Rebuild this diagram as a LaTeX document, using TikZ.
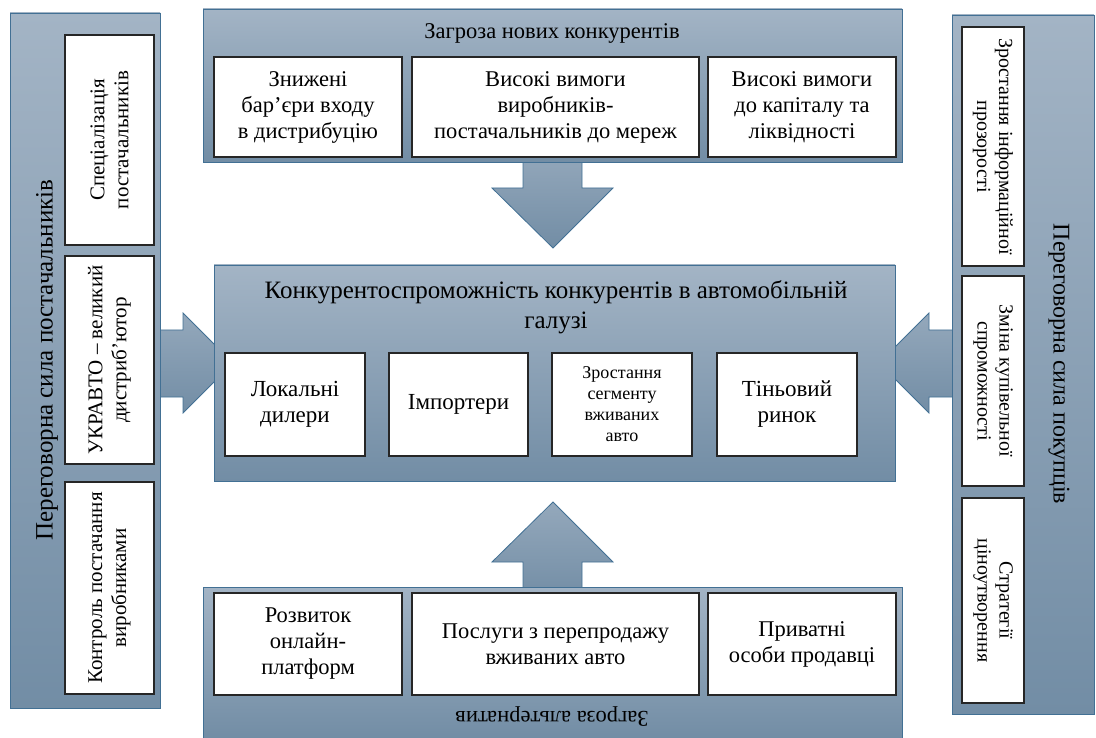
\documentclass[tikz,border=0pt]{standalone}
\usepackage{fontspec}
\setmainfont{Liberation Serif}
\definecolor{paneltop}{RGB}{163,180,197}
\definecolor{panelbot}{RGB}{114,141,165}
\definecolor{paneledge}{RGB}{66,112,148}

\begin{document}
\begin{tikzpicture}[x=1pt,y=-1pt,
		panel/.style={draw=paneledge,line width=0.8pt,top color=paneltop,bottom color=panelbot,inner sep=0pt},
		factor/.style={draw=black!85,line width=1.6pt,fill=white,align=center,inner sep=2pt},
		blockarrow/.style={draw=paneledge,line width=0.8pt,top color=paneltop!70!panelbot,bottom color=panelbot}]
		\useasboundingbox (0,0) rectangle (1096,738);
		\path[blockarrow] (150,330) -- (183,330) -- (183,313) -- (233,363) -- (183,413) -- (183,397) -- (150,397) -- cycle;
		\path[blockarrow] (962,330) -- (929,330) -- (929,313) -- (879,363) -- (929,413) -- (929,397) -- (962,397) -- cycle;
		\path[blockarrow] (523,150) -- (523,188) -- (492,188) -- (553,248) -- (613,188) -- (582,188) -- (582,150) -- cycle;
		\path[blockarrow] (523,600) -- (523,562) -- (492,562) -- (553,502) -- (613,562) -- (582,562) -- (582,600) -- cycle;
		\node[panel,minimum width=150,minimum height=695] (sup) at (85,360.5) {};
		\node[panel,minimum width=142,minimum height=699] (buy) at (1023,364.5) {};
		\node[panel,minimum width=699,minimum height=153] (newc) at (552.5,85.5) {};
		\node[panel,minimum width=699,minimum height=151] (alt) at (552.5,662.5) {};
		\node[panel,minimum width=681,minimum height=216] (core) at (554.5,373) {};
		\node (supT) [rotate=90,font=\fontsize{25}{30}\selectfont] at (47,360) {Переговорна сила постачальників};
		\node (buyT) [rotate=-90,font=\fontsize{24}{29}\selectfont] at (1059,364) {Переговорна сила покупців};
		\node (newcT) [font=\fontsize{22.5}{26}\selectfont] at (552,33) {Загроза нових конкурентів};
		\node (altT) [rotate=180,font=\fontsize{22.5}{26}\selectfont] at (552,717) {Загроза альтернатив};
		\node (coreT) [align=center,font=\fontsize{25}{30}\selectfont] at (556,307) {Конкурентоспроможність конкурентів в автомобільній\\галузі};
		\node (S1) [factor,rotate=90,minimum width=210,minimum height=89,font=\fontsize{21}{24}\selectfont] at (109.5,140) {Спеціалізація\\постачальників};
		\node (S2) [factor,rotate=90,minimum width=208,minimum height=89,font=\fontsize{21}{24}\selectfont] at (109.5,360) {УКРАВТО -- великий\\дистриб’ютор};
		\node (S3) [factor,rotate=90,minimum width=212,minimum height=89,font=\fontsize{21}{24}\selectfont] at (109.5,588) {Контроль постачання\\виробниками};
		\node (B1) [factor,rotate=-90,minimum width=239,minimum height=62,inner sep=1pt,font=\fontsize{20}{22}\selectfont] at (993,146.5) {Зростання інформаційної\\прозорості};
		\node (B2) [factor,rotate=-90,minimum width=210,minimum height=62,inner sep=1pt,font=\fontsize{20}{22}\selectfont] at (993,381) {Зміна купівельної\\спроможності};
		\node (B3) [factor,rotate=-90,minimum width=205,minimum height=62,inner sep=1pt,font=\fontsize{20}{22}\selectfont] at (993,600.5) {Стратегії\\ціноутворення};
		\node (N1) [factor,minimum width=188,minimum height=100,font=\fontsize{22.5}{26}\selectfont] at (308,107) {Знижені\\бар’єри входу\\в дистрибуцію};
		\node (N2) [factor,minimum width=287,minimum height=100,font=\fontsize{22.5}{26}\selectfont] at (555.5,107) {Високі вимоги\\виробників-\\постачальників до мереж};
		\node (N3) [factor,minimum width=188,minimum height=100,font=\fontsize{22.5}{26}\selectfont] at (802,107) {Високі вимоги\\до капіталу та\\ліквідності};
		\node (C1) [factor,minimum width=140,minimum height=103,font=\fontsize{23}{26}\selectfont] at (295,404.5) {Локальні\\дилери};
		\node (C2) [factor,minimum width=139,minimum height=103,font=\fontsize{23}{26}\selectfont] at (458.5,404.5) {Імпортери};
		\node (C3) [factor,minimum width=140,minimum height=103,font=\fontsize{18}{21}\selectfont] at (622,404.5) {Зростання\\сегменту\\вживаних\\авто};
		\node (C4) [factor,minimum width=140,minimum height=103,font=\fontsize{23}{26}\selectfont] at (787,404.5) {Тіньовий\\ринок};
		\node (A1) [factor,minimum width=188,minimum height=102,font=\fontsize{22.5}{26}\selectfont] at (308,644) {Розвиток\\онлайн-\\платформ};
		\node (A2) [factor,minimum width=287,minimum height=102,font=\fontsize{22.5}{26}\selectfont] at (555.5,644) {Послуги з перепродажу\\вживаних авто};
		\node (A3) [factor,minimum width=188,minimum height=102,font=\fontsize{22.5}{26}\selectfont] at (802,644) {Приватні\\особи продавці};
		\end{tikzpicture}
\end{document}
